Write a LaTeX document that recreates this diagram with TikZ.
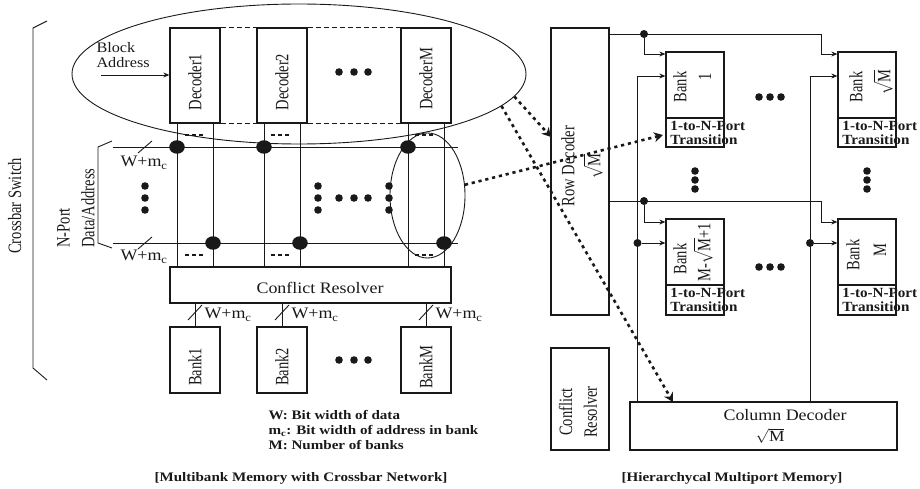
\documentclass[tikz,border=0pt]{standalone}
\usepackage{fontspec}
\setmainfont{Liberation Serif}
\usetikzlibrary{shapes.geometric,arrows.meta}

\begin{document}
\begin{tikzpicture}[x=1pt, y=-1pt, line width=0.9pt, color=black!90]
	% Styles of boxes, dots and texts
	\tikzset{
		blockbox/.style={rectangle, draw, line width=1.3pt, inner sep=0pt, minimum width=#1},
		crossdot/.style={circle, fill, inner sep=0pt, minimum size=13.5pt, xscale=1.15, transform shape},
		tapdot/.style={circle, fill, inner sep=0pt, minimum size=8pt},
		ring/.style={ellipse, draw, inner sep=0pt},
		plain/.style={inner sep=0pt, transform shape, xscale=1.12, font=\fontsize{16}{18}\selectfont},
		boldlabel/.style={inner sep=0pt, transform shape, xscale=1.08, align=left, font=\fontsize{14}{14.5}\selectfont\bfseries},
		boldnote/.style={inner sep=0pt, transform shape, xscale=1.16, align=left, font=\fontsize{13}{15}\selectfont\bfseries},
		upright/.style={inner sep=0pt, transform shape, rotate=90, yscale=1.3, align=center, font=\fontsize{14.5}{19}\selectfont},
		feed/.style={-{Stealth[length=6pt, width=5pt]}},
		jump/.style={line width=2.6pt, dash pattern=on 3.2pt off 3.8pt, -{Stealth[length=9pt, width=10pt]}},
		ellipdash/.style={line width=1.3pt, dash pattern=on 5pt off 3pt},
		gapdash/.style={line width=1.6pt, dash pattern=on 4pt off 3pt}
	}
	\useasboundingbox (0,0) rectangle (920,489);

	% Radius of the small dots
	\def\rd{3.8}

	% Decoders
	\node[blockbox=50pt, minimum height=95pt] (dec1) at (195,75.5) {};
	\node[blockbox=50pt, minimum height=95pt] (dec2) at (282,75.5) {};
	\node[blockbox=50pt, minimum height=95pt] (decM) at (426,75.5) {};
	\node[upright] (dec1t) at (195,82) {Decoder1};
	\node[upright] (dec2t) at (282,82) {Decoder2};
	\node[upright] (decMt) at (426,79) {DecoderM};
	\draw[ellipdash] (dec1.north east) -- (dec2.north west);
	\draw[ellipdash] (dec1.south east) -- (dec2.south west);
	\draw[ellipdash] (dec2.north east) -- (decM.north west);
	\draw[ellipdash] (dec2.south east) -- (decM.south west);

	% Block address input
	\node[plain, anchor=west, align=left, font=\fontsize{14.5}{15}\selectfont] (addr) at (96,55.5) {Block\\Address};
	\coordinate (addrin) at (101,75);
	\draw[feed] (addrin) -- (addrin -| dec1.west);

	% Resolver and banks
	\node[blockbox=281pt, minimum height=36pt] (res) at (310.5,285) {};
	\node[plain] (rest) at (320,288) {Conflict Resolver};
	\node[blockbox=50pt, minimum height=66pt] (bank1) at (195,360) {};
	\node[blockbox=50pt, minimum height=66pt] (bank2) at (282,360) {};
	\node[blockbox=50pt, minimum height=66pt] (bankM) at (426,360) {};
	\node[upright] (bank1t) at (195,367) {Bank1};
	\node[upright] (bank2t) at (282,367) {Bank2};
	\node[upright] (bankMt) at (426,367) {BankM};
	\draw (bank1.north) -- (bank1.north |- res.south);
	\draw (bank2.north) -- (bank2.north |- res.south);
	\draw (bankM.north) -- (bankM.north |- res.south);

	% Port lines and crossbar points
	\coordinate (busAw) at (113,147);
	\coordinate (busAe) at (458,147);
	\coordinate (busBw) at (113,243);
	\coordinate (busBe) at (458,243);
	\draw (busAw) -- (busAe);
	\draw (busBw) -- (busBe);
	\node[crossdot] (xa1) at (177,147) {};
	\node[crossdot] (xa2) at (264,147) {};
	\node[crossdot] (xaM) at (408,147) {};
	\node[crossdot] (xb1) at (213,243) {};
	\node[crossdot] (xb2) at (300,243) {};
	\node[crossdot] (xbM) at (444,243) {};
	\draw (xa1 |- dec1.south) -- (xa1 |- res.north);
	\draw (xb1 |- dec1.south) -- (xb1 |- res.north);
	\draw (xa2 |- dec2.south) -- (xa2 |- res.north);
	\draw (xb2 |- dec2.south) -- (xb2 |- res.north);
	\draw (xaM |- decM.south) -- (xaM |- res.north);
	\draw (xbM |- decM.south) -- (xbM |- res.north);
	\draw[gapdash] (185,135) -- (203,135);
	\draw[gapdash] (271,135) -- (290,135);
	\draw[gapdash] (415,135) -- (433,135);
	\draw[gapdash] (185,255) -- (203,255);
	\draw[gapdash] (271,255) -- (290,255);
	\draw[gapdash] (415,255) -- (433,255);

	% Width marks
	\draw (152,141) -- (138,153);
	\draw (152,237) -- (138,249);
	\draw (202,305) -- (188,320);
	\draw (289,305) -- (275,320);
	\draw (433,305) -- (419,320);
	\node[plain, anchor=west] (wa) at (120,163) {W+m$_{\mathrm{c}}$};
	\node[plain, anchor=west] (wb) at (120,257) {W+m$_{\mathrm{c}}$};
	\node[plain, anchor=west] (w1) at (204,315) {W+m$_{\mathrm{c}}$};
	\node[plain, anchor=west] (w2) at (291,315) {W+m$_{\mathrm{c}}$};
	\node[plain, anchor=west] (wM) at (435,315) {W+m$_{\mathrm{c}}$};

	% Braces of the left part
	\draw (47,21) -- (33,28) -- (33,368) -- (47,380);
	\draw (112,141) -- (98,147) -- (98,243) -- (112,248);
	\node[upright, anchor=south] (cross) at (22,206) {Crossbar Switch};
	\node[upright, anchor=west, align=left] (nport) at (76,248) {N-Port\\Data/Address};

	% Rows of three dots
	\fill (339,72) circle (\rd) (354,72) circle (\rd) (368,72) circle (\rd);
	\fill (339,360) circle (\rd) (354,360) circle (\rd) (368,360) circle (\rd);
	\fill (339,198) circle (\rd) (354,198) circle (\rd) (368,198) circle (\rd);
	\fill (145,186) circle (\rd) (145,198) circle (\rd) (145,210) circle (\rd);
	\fill (318,186) circle (\rd) (318,198) circle (\rd) (318,210) circle (\rd);
	\fill (389,186) circle (\rd) (389,198) circle (\rd) (389,210) circle (\rd);

	% Rings
	\node[ring, minimum width=454pt, minimum height=140pt] (ringA) at (299,74) {};
	\node[ring, minimum width=75pt, minimum height=125pt] (ringB) at (427.5,195.5) {};

	% Notes and titles
	\node[boldnote, anchor=north west] (note) at (268,410)
		{W: Bit width of data\\m$_{\mathbf{c}}$: Bit width of address in bank\\M: Number of banks};
	\node[boldnote] (titleA) at (301,478) {[Multibank Memory with Crossbar Network]};
	\node[boldnote] (titleB) at (732,478) {[Hierarchycal Multiport Memory]};

	% Decoders of the right part
	\node[blockbox=58pt, minimum height=287pt] (row) at (580,171.5) {};
	\node[upright, font=\fontsize{14.5}{20}\selectfont] (rowt) at (582,166) {Row Decoder\\$\sqrt{\mathrm{M}}$};
	\node[blockbox=58pt, minimum height=102pt] (cres) at (580,399) {};
	\node[upright] (crest) at (578,412) {Conflict\\Resolver};
	\node[blockbox=267pt, minimum height=48pt] (col) at (763.5,426) {};
	\node[plain] (colt) at (785,415) {Column Decoder};
	\node[plain, font=\fontsize{15.5}{17}\selectfont] (colm) at (770,436) {$\sqrt{\mathrm{M}}$};

	% Memory banks
	\node[blockbox=58pt, minimum height=66pt] (mem1) at (695,85) {};
	\node[blockbox=58pt, minimum height=29pt] (tr1) at (695,132.5) {};
	\node[blockbox=58pt, minimum height=66pt] (mem2) at (867,85) {};
	\node[blockbox=58pt, minimum height=29pt] (tr2) at (867,132.5) {};
	\node[blockbox=58pt, minimum height=66pt] (mem3) at (695,252) {};
	\node[blockbox=58pt, minimum height=30pt] (tr3) at (695,300) {};
	\node[blockbox=58pt, minimum height=66pt] (mem4) at (867,252) {};
	\node[blockbox=58pt, minimum height=30pt] (tr4) at (867,300) {};
	\node[upright] (mem1a) at (680,87) {Bank};
	\node[upright] (mem1b) at (705,77) {1};
	\node[upright] (mem2a) at (856,87) {Bank};
	\node[upright] (mem2b) at (883,82) {$\sqrt{\mathrm{M}}$};
	\node[upright] (mem3a) at (680,259) {Bank};
	\node[upright] (mem3b) at (703,252) {M-$\sqrt{\mathrm{M}}$+1};
	\node[upright] (mem4a) at (853,255) {Bank};
	\node[upright] (mem4b) at (880,250) {M};
	\node[boldlabel, anchor=west] (tr1t) at (670,133) {1-to-N-Port\\Transition};
	\node[boldlabel, anchor=west] (tr2t) at (842,133) {1-to-N-Port\\Transition};
	\node[boldlabel, anchor=west] (tr3t) at (670,300) {1-to-N-Port\\Transition};
	\node[boldlabel, anchor=west] (tr4t) at (842,300) {1-to-N-Port\\Transition};

	% Row lines
	\coordinate (rowA) at (821,34);
	\coordinate (rowB) at (821,201);
	\node[tapdot] (tapA) at (644,34) {};
	\node[tapdot] (tapB) at (644,201) {};
	\draw (rowA -| row.east) -- (rowA);
	\draw (rowB -| row.east) -- (rowB);
	\draw[feed] (rowA) -- (821,54) -- (mem2.west |- 0,54);
	\draw[feed] (rowB) -- (821,222) -- (mem4.west |- 0,222);
	\draw[feed] (tapA) -- (644,54) -- (mem1.west |- 0,54);
	\draw[feed] (tapB) -- (644,222) -- (mem3.west |- 0,222);

	% Column lines
	\node[tapdot] (tapC) at (637.5,243) {};
	\node[tapdot] (tapD) at (810,243) {};
	\draw[feed] (tapC |- col.north) -- (tapC |- 0,76) -- (mem1.west |- 0,76);
	\draw[feed] (tapD |- col.north) -- (tapD |- 0,76) -- (mem2.west |- 0,76);
	\draw[feed] (tapC) -- (tapC -| mem3.west);
	\draw[feed] (tapD) -- (tapD -| mem4.west);

	% Rows of three dots
	\fill (759,97) circle (\rd) (770,97) circle (\rd) (781,97) circle (\rd);
	\fill (759,267) circle (\rd) (770,267) circle (\rd) (781,267) circle (\rd);
	\fill (695,171) circle (\rd) (695,180) circle (\rd) (695,189) circle (\rd);
	\fill (867,171) circle (\rd) (867,180) circle (\rd) (867,189) circle (\rd);

	% Dotted links
	\coordinate (rowin) at (551,137);
	\coordinate (trin) at (663,135);
	\coordinate (colin) at (673,402);
	\draw[jump] (ringA.-6.7) -- (rowin);
	\draw[jump] (ringA.-9.4) -- (colin);
	\draw[jump] (ringB.16) -- (trin);
\end{tikzpicture}
\end{document}
